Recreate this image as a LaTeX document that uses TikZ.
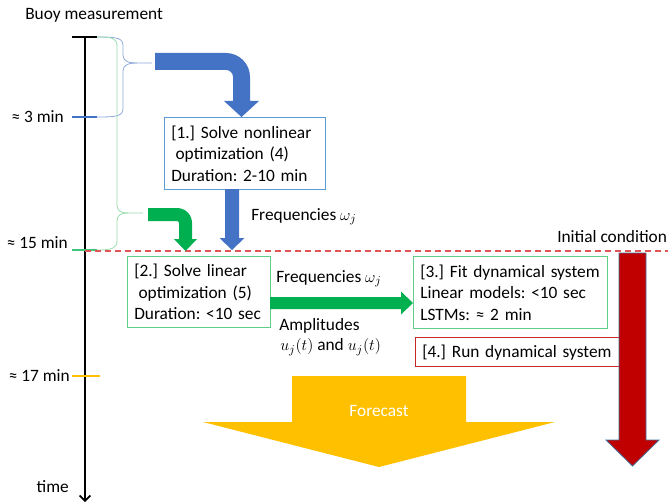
\documentclass[tikz,border=0pt]{standalone}
\usepackage{fontspec}
\setmainfont{Carlito}
\usepackage{tikz}
\usetikzlibrary{arrows.meta,positioning}

\definecolor{tlblue}{HTML}{4472C4}
\definecolor{boxblue}{HTML}{5B9BD5}
\definecolor{tlgreen}{HTML}{00B050}
\definecolor{boxgreen}{HTML}{5FCF88}
\definecolor{boxred}{HTML}{C82828}
\definecolor{darkred}{HTML}{C00000}
\definecolor{redrim}{HTML}{41719C}
\definecolor{gold}{HTML}{FFC000}
\definecolor{braceblue}{HTML}{8FAADC}
\definecolor{bracegreen}{HTML}{9ADDAE}
\definecolor{dashred}{HTML}{E05555}

\begin{document}
\begin{tikzpicture}[x=0.75pt, y=-0.75pt,
  font=\fontsize{13pt}{16pt}\selectfont\frenchspacing,
  lbl/.style={inner sep=0pt},
  stepbox/.style={draw, line width=0.9pt, anchor=north west, align=left,
    inner xsep=5pt, inner ysep=1pt},
  tick/.style={line width=1.3pt},
  brace/.style={line width=0.6pt},
  axis/.style={line width=1.2pt, -{Straight Barb[length=4pt, width=8pt]}}
]
\useasboundingbox (0,0) rectangle (668,503);

% time axis
\node[lbl, anchor=west] (buoy) at (25,15) {Buoy measurement};
\node[lbl, anchor=east] (m3) at (64,117) {≈ 3 min};
\node[lbl, anchor=east] (m15) at (68,243) {≈ 15 min};
\node[lbl, anchor=east] (m17) at (70,376) {≈ 17 min};
\node[lbl, anchor=east] (time) at (69,487) {time};
\coordinate (t0) at (85,37);
\coordinate (tend) at (85,502);
\draw[axis] (t0) -- (tend);
\draw[tick] (72,37) -- (97,37);
\draw[tick, tlblue] (72,117) -- (97,117);
\draw[tick, tlgreen!75] (72,250) -- (97,250);
\draw[tick, gold] (72,376) -- (100,376);

% braces
\draw[brace, braceblue] (97,37) .. controls (118,37) and (123,38) .. (123,46) -- (123,55)
  .. controls (123,61) and (128,63) .. (137,63) -- (152,63);
\draw[brace, braceblue] (137,63) .. controls (128,63) and (123,65) .. (123,71) -- (123,108)
  .. controls (123,116) and (118,117) .. (97,117);
\draw[brace, bracegreen] (97,37) .. controls (112,37) and (117,38) .. (117,46) -- (117,205)
  .. controls (117,211) and (121,213) .. (128,213) -- (143,213);
\draw[brace, bracegreen] (128,213) .. controls (121,213) and (117,215) .. (117,221) -- (117,241)
  .. controls (117,248) and (112,250) .. (97,250);

% initial condition line
\draw[dashred, line width=1.1pt, dash pattern=on 4.5pt off 3pt] (85,251) -- (668,251);
\node[lbl, anchor=west] (init) at (557,237) {Initial condition};

% steps
\node[stepbox, draw=boxblue, text width=110.75pt, minimum height=54pt] (solve1) at (164,117)
  {[1.] Solve nonlinear\\\hspace*{0.25em}optimization (4)\\Duration: 2-10 min};
\node[stepbox, draw=boxgreen, text width=97.25pt, minimum height=53.25pt] (solve2) at (127,256)
  {[2.] Solve linear\\\hspace*{0.25em}optimization (5)\\Duration: <10 sec};
\node[stepbox, draw=boxgreen, text width=135.5pt, minimum height=54pt] (fitsys) at (413,256)
  {[3.] Fit dynamical system\\Linear models: <10 sec\\LSTMs: ≈ 2 min};
\node[stepbox, draw=boxred, text width=143pt, minimum height=21.75pt,
  below=6pt of fitsys.south west, anchor=north west, xshift=1.5pt] (runsys)
  {[4.] Run dynamical system};

% block arrows
\fill[tlblue] (155,53) -- (226,53) .. controls (239.25,53) and (250,63.75) .. (250,77)
  -- (250,101) -- (259,101) -- (241.5,117) -- (224,101) -- (233,101) -- (233,77)
  .. controls (233,73.1) and (229.9,70) .. (226,70) -- (155,70) -- cycle;
\fill[tlgreen] (148,208) -- (177,208) .. controls (185.3,208) and (192,214.7) .. (192,223)
  -- (192,239) -- (197,239) -- (185.5,251) -- (174,239) -- (179,239) -- (179,223)
  .. controls (179,221.9) and (178.1,221) .. (177,221) -- (148,221) -- cycle;
\fill[tlblue] (225,189) -- (239,189) -- (239,238) -- (244.5,238) -- (232,250)
  -- (219.5,238) -- (225,238) -- cycle;
\node[lbl, anchor=west] (freq1) at (251,217) {Frequencies $\omega_j$};
\fill[tlgreen] (270,297) -- (401,297) -- (401,291.5) -- (413,303) -- (401,314.5)
  -- (401,309) -- (270,309) -- cycle;
\node[lbl, anchor=west] (freq2) at (276,279) {Frequencies $\omega_j$};
\node[lbl, anchor=west] (ampl) at (279,326) {Amplitudes};
\node[lbl, anchor=west] (uj) at (280,347) {$u_j(t)$ and $u_j(t)$};
\filldraw[fill=darkred, draw=redrim, line width=0.6pt] (619,253) -- (646,253) -- (646,440)
  -- (659,440) -- (632.5,466) -- (606,440) -- (619,440) -- cycle;
\fill[gold] (292,376) -- (466,376) -- (466,422) -- (555,422) -- (379,467) -- (203,422)
  -- (292,422) -- cycle;
\node[text=white] (forecast) at (379,411) {Forecast};
\end{tikzpicture}
\end{document}
